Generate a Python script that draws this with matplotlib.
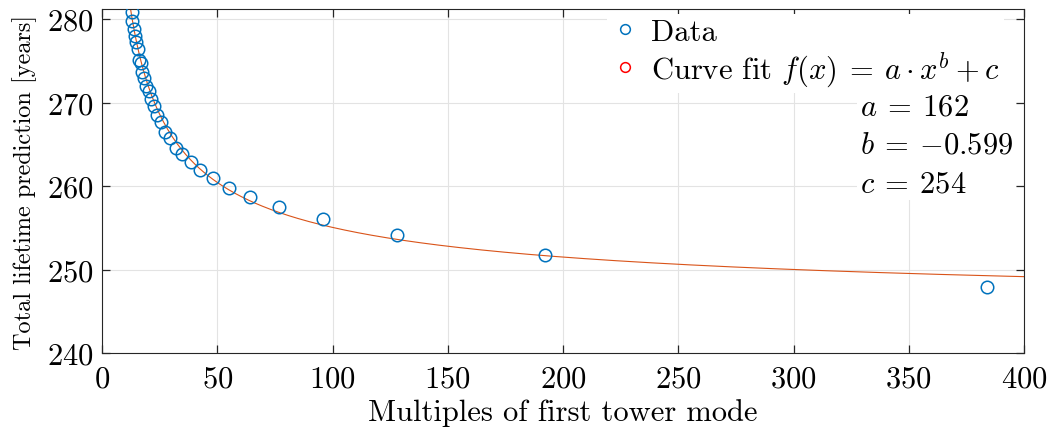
import numpy as np
import matplotlib
matplotlib.use('Agg')
import matplotlib.pyplot as plt

plt.rcParams['font.family'] = 'serif'
plt.rcParams['font.serif'] = ['cmr10']
plt.rcParams['mathtext.fontset'] = 'cm'
plt.rcParams['axes.formatter.use_mathtext'] = True

# data
multiples = [384, 192, 128, 96, 76.8, 64, 54.9, 48, 42.7, 38.4, 34.9, 32, 29.5, 27.4,
             25.6, 24, 22.6, 21.3, 20.2, 19.2, 18.3, 17.5, 16.7, 16, 15.4, 14.8, 14.2,
             13.7, 13.2, 12.8]
lifetime = [247.9, 251.7, 254.1, 256.0, 257.5, 258.7, 259.8, 260.9, 261.9, 262.9, 263.8,
            264.6, 265.7, 266.5, 267.7, 268.5, 269.6, 270.4, 271.4, 272.0, 272.9, 273.7,
            274.7, 275.1, 276.4, 277.3, 278.0, 278.8, 279.8, 280.9]

# curve as drawn in the figure
fit_a = 165.5
fit_b = -0.6
fit_c = 244.6
fit_label = [r"$a\:=\:162$", r"$b\:=\:{-}0.599$", r"$c\:=\:254$"]

fig = plt.figure(figsize=(10.53, 4.35), dpi=100)
ax = fig.add_axes([0.0969, 0.1862, 0.8756, 0.7908])

xf = np.linspace(12, 400, 400)
ax.plot(multiples, lifetime, 'o', mfc='none', mec='#0072BD', ms=9, mew=1.1, zorder=3)
ax.plot(xf, fit_a * xf**fit_b + fit_c, '-', color='#D95319', lw=0.8, zorder=2)

ax.set_xlim(0, 400)
ax.set_ylim(240, 281.2)
ax.set_xticks(np.arange(0, 401, 50))
ax.set_yticks(np.arange(240, 281, 10))
ax.grid(True, color='#e3e3e3', lw=0.8)
ax.set_axisbelow(True)
ax.tick_params(direction='in', top=True, right=True, length=6, width=0.9,
               labelsize=22, color='#262626')
ax.tick_params(axis='x', pad=9)
ax.tick_params(axis='y', pad=6)
for s in ax.spines.values():
    s.set_color('#262626')
    s.set_linewidth(0.8)

ax.set_xlabel('Multiples of first tower mode', fontsize=22, labelpad=4)
ax.set_ylabel('Total lifetime prediction [years]', fontsize=17.5, labelpad=7)

h1, = ax.plot([], [], 'o', mfc='none', mec='#0072BD', ms=7, mew=1.1)
h2, = ax.plot([], [], 'o', mfc='none', mec='#FF0000', ms=7, mew=1.1)
leg = ax.legend([h1, h2], ['Data', r'Curve fit $f(x)\:=\:a\cdot x^b+c$'],
                loc='upper right', bbox_to_anchor=(0.995, 1.03), fontsize=22,
                frameon=True, fancybox=False, edgecolor='none', framealpha=1,
                handletextpad=0.4, borderpad=0.15, labelspacing=0.1, handlelength=0.9)

ax.text(0.822, 0.755, '\n'.join(fit_label), transform=ax.transAxes, fontsize=22,
        va='top', ha='left', linespacing=1.5, zorder=6,
        bbox=dict(facecolor='white', edgecolor='none', pad=2))

fig.savefig('out.png', dpi=100)
